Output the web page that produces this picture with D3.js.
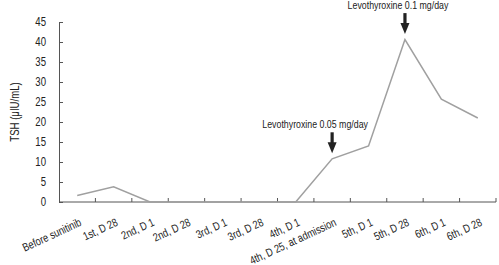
<!DOCTYPE html>
<html>
<head>
<meta charset="utf-8">
<script src="https://cdn.jsdelivr.net/npm/d3@7"></script>
<style>
  body { margin: 0; background: #fff; }
  svg text { font-family: "Liberation Sans", Arial, sans-serif; fill: #222; }
</style>
</head>
<body>
<div id="chart"></div>
<script>
// Chart data
var categories = ["Before sunitinib", "1st, D 28", "2nd, D 1", "2nd, D 28", "3rd, D 1", "3rd, D 28",
                  "4th, D 1", "4th, D 25, at admission", "5th, D 1", "5th, D 28", "6th, D 1", "6th, D 28"];
var tsh = [1.6, 3.8, 0, 0, 0, 0, 0, 10.8, 14, 40.6, 25.7, 21];
var yTicks = [0, 5, 10, 15, 20, 25, 30, 35, 40, 45];
var noteCats = ["4th, D 25, at admission", "5th, D 28"];
var noteTexts = ["Levothyroxine 0.05 mg/day", "Levothyroxine 0.1 mg/day"];

var squeeze = 0.8; // the original uses a condensed face

var margin = {top: 22, right: 3, bottom: 63, left: 59},
    width = 499 - margin.left - margin.right,
    height = 265 - margin.top - margin.bottom;

var svg = d3.select("#chart")
    .append("svg")
    .attr("width", 499)
    .attr("height", 265)
    .append("g")
    .attr("transform", "translate(" + margin.left + "," + margin.top + ")");

var x = d3.scaleBand()
    .domain(categories)
    .range([0, 437]);

var y = d3.scaleLinear()
    .domain([0, 45])
    .range([height, 0]);

// Y axis, ticks pointing inward
var yAxis = svg.append("g")
    .call(d3.axisLeft(y).tickValues(yTicks).tickSize(-4).tickPadding(13));
yAxis.select(".domain").attr("stroke", "#555");
yAxis.selectAll(".tick line").attr("stroke", "#555");
yAxis.selectAll(".tick text")
    .style("font-size", "12px")
    .attr("transform", function() { return "translate(" + d3.select(this).attr("x") + ",0) scale(" + squeeze + ",1)"; })
    .attr("x", 0);

// X axis with ticks on the band boundaries
var xg = svg.append("g")
    .attr("transform", "translate(0," + height + ")");
xg.append("line")
    .attr("x1", 0).attr("x2", x.range()[1])
    .attr("stroke", "#555");
xg.selectAll("tickMark")
    .data(categories)
    .enter()
    .append("line")
    .attr("x1", d => x(d) + x.bandwidth())
    .attr("x2", d => x(d) + x.bandwidth())
    .attr("y1", 0).attr("y2", -4)
    .attr("stroke", "#555");
xg.selectAll("catLabel")
    .data(categories)
    .enter()
    .append("text")
    .attr("text-anchor", "end")
    .attr("transform", d => "translate(" + (x(d) + x.bandwidth() / 2 + 5) + ",23) rotate(-25) scale(" + squeeze + ",1)")
    .style("font-size", "11.5px")
    .text(d => d);

// Y axis title
svg.append("text")
    .attr("transform", "translate(-40," + height / 2 + ") rotate(-90) scale(" + squeeze + ",1)")
    .attr("text-anchor", "middle")
    .style("font-size", "12px")
    .text("TSH (\u03bcIU/mL)");

// TSH line
var line = d3.line()
    .x((d, i) => x(categories[i]) + x.bandwidth() / 2)
    .y(d => y(d));

svg.append("path")
    .datum(tsh)
    .attr("fill", "none")
    .attr("stroke", "#a0a0a0")
    .attr("stroke-width", 1.5)
    .attr("d", line);

// Treatment annotations with arrows
var textShift = [-17, -7];
noteCats.forEach(function(c, k) {
    var i = categories.indexOf(c);
    var cx = x(c) + x.bandwidth() / 2;
    var tip = y(tsh[i]) - 5.5;
    var top = tip - 21;
    svg.append("text")
        .attr("transform", "translate(" + (cx + textShift[k]) + "," + (top - 4.5) + ") scale(" + squeeze + ",1)")
        .attr("text-anchor", "middle")
        .style("font-size", "11px")
        .text(noteTexts[k]);
    svg.append("rect")
        .attr("x", cx - 1.6)
        .attr("y", top)
        .attr("width", 3.2)
        .attr("height", 12)
        .attr("fill", "#222");
    svg.append("path")
        .attr("d", "M" + (cx - 4.5) + "," + (top + 10) + "L" + (cx + 4.5) + "," + (top + 10) + "L" + cx + "," + tip + "Z")
        .attr("fill", "#222");
});
</script>
</body>
</html>
